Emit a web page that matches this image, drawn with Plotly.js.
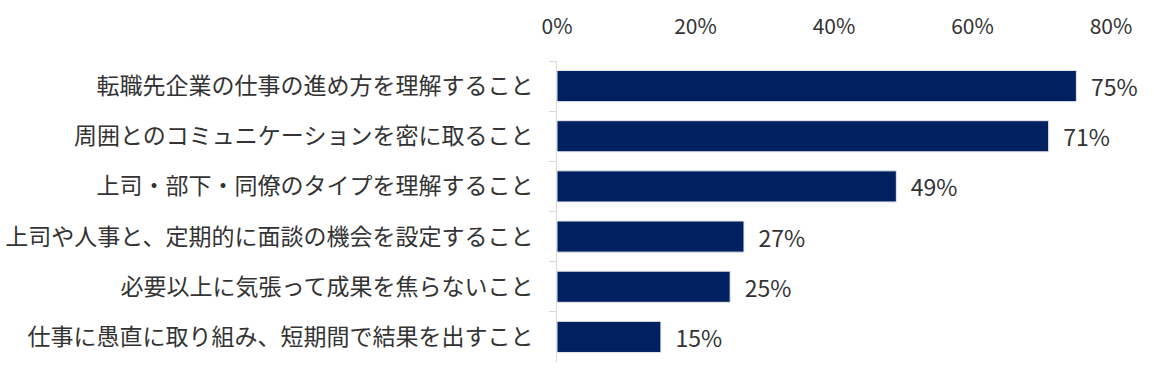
<!DOCTYPE html>
<html><head><meta charset="utf-8">
<script src="https://cdn.plot.ly/plotly-3.0.1.min.js"></script>
<style>body{margin:0;background:#fff}#c{width:1154px;height:391px}</style>
</head><body><div id="c"></div>
<script>
const categories = [
  "転職先企業の仕事の進め方を理解すること",
  "周囲とのコミュニケーションを密に取ること",
  "上司・部下・同僚のタイプを理解すること",
  "上司や人事と、定期的に面談の機会を設定すること",
  "必要以上に気張って成果を焦らないこと",
  "仕事に愚直に取り組み、短期間で結果を出すこと"
];
const values = [0.75, 0.71, 0.49, 0.27, 0.25, 0.15];
const labels = ["75%", "71%", "49%", "27%", "25%", "15%"];
const tickVals = [0, 0.2, 0.4, 0.6, 0.8];
const tickText = ["0%", "20%", "40%", "60%", "80%"];

const font = "'Noto Sans CJK JP', 'Noto Sans', sans-serif";
Plotly.newPlot("c", [{
  type: "bar", orientation: "h",
  y: categories, x: values,
  text: labels, texttemplate: "\u2002%{text}", textposition: "outside",
  cliponaxis: false, constraintext: "none",
  textfont: {family: font, size: 23, color: "#333333"},
  marker: {color: "#002060", line: {color: "#e6e6e6", width: 1}},
  width: 0.62, hoverinfo: "skip"
}], {
  width: 1154, height: 391,
  margin: {l: 557, r: 43, t: 61, b: 29},
  paper_bgcolor: "#fff", plot_bgcolor: "#fff",
  showlegend: false,
  xaxis: {
    side: "top", range: [0, 0.8], tickvals: tickVals, ticktext: tickText,
    showgrid: false, zeroline: false, showline: false, ticks: "",
    ticklabelstandoff: 22,
    tickfont: {family: font, size: 21, color: "#333333"}
  },
  yaxis: {
    autorange: "reversed", showgrid: false, zeroline: false,
    showline: true, linecolor: "#d9d9d9", linewidth: 1,
    ticks: "outside", tickson: "boundaries", ticklen: 7, tickcolor: "#d9d9d9",
    ticklabelstandoff: 18,
    tickfont: {family: font, size: 23, color: "#333333"}
  }
}, {staticPlot: true});
</script></body></html>
